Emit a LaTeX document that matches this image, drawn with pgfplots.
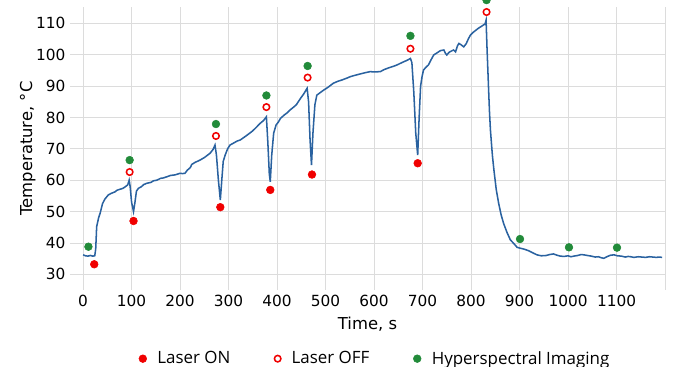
\documentclass[border=0pt]{standalone}
\usepackage{pgfplots}
\pgfplotsset{compat=1.18}
\usepackage{fontspec}
\setmainfont{DejaVu Sans}
\newfontfamily\legfont{Open Sans}
\definecolor{lineblue}{HTML}{2A62A0}
\definecolor{laserred}{HTML}{F00000}
\definecolor{hsgreen}{HTML}{228B3A}
\definecolor{gridgray}{HTML}{DCDCDC}
\begin{document}
\begin{tikzpicture}
\begin{axis}[
  scale only axis,
  width=446.25pt, height=212.25pt,
  xmin=-27, xmax=1200, ymin=25, ymax=115.2,
  xtick={0,100,...,1100},
  extra x ticks={1200}, extra x tick labels={},
  extra x tick style={grid=major},
  ytick={30,40,...,110},
  grid=major,
  major grid style={gridgray, line width=0.6pt},
  axis line style={draw=none},
  major tick length=0pt,
  tick label style={font=\fontsize{11.5}{13}\selectfont},
  /pgf/number format/assume math mode=true,
  /pgf/number format/1000 sep={},
  xlabel={Time, s},
  ylabel={Temperature, °C},
  ylabel shift=-6.5pt,
  xlabel shift=1pt,
  label style={font=\fontsize{12.3}{14}\selectfont},
  clip=false,
  legend columns=3,
  legend style={at={(0.5,0)}, anchor=center, yshift=-51.5pt, xshift=6pt, draw=none,
    font=\legfont\fontsize{12.7}{14}\selectfont,
    /tikz/every odd column/.append style={column sep=6pt},
    /tikz/every even column/.append style={column sep=31pt}},
]
\addplot[lineblue, line width=1.15pt, forget plot] coordinates {
(0,36.2)(5,35.9)(10,35.8)(15,36.0)(20,35.8)(24,35.9)(26,38)(28,45.2)(32,48)(35,49.4)
(40,52.5)(45,54)(52,55.3)(58,55.8)(66,56.3)(70,56.8)(76,57.1)(82,57.4)(87,57.9)(92,58.5)
(95,60.0)(97,58)(100,53)(104,50)(107,53)(110,56.5)(114,57.4)(120,57.9)(125,58.6)(131,59.0)
(140,59.3)(145,59.8)(152,60.0)(160,60.6)(165,60.7)(173,61.1)(180,61.5)(190,61.7)(200,62.2)
(205,62.1)(210,62.2)(215,63.2)(221,64.0)(224,65.0)(230,65.6)(241,66.4)(250,67.2)(262,68.6)
(268,69.8)(272,71.2)(275,68)(279,60)(283,53.7)(286,60)(289,66)(293,68)(298,70)(303,71.2)
(310,71.8)(318,72.5)(324,72.8)(335,74)(342,74.8)(348,75.5)(355,76.5)(360,77.3)(365,78.1)
(372,79)(378,80.2)(381,72)(384,62)(386,59.5)(389,68)(393,75)(398,77.6)(403,78.6)(407,79.7)
(415,80.8)(421,81.5)(427,82.4)(435,83.4)(440,84.1)(448,86)(455,87.5)(462,89.3)(465,85)
(468,73)(471,64.8)(474,75)(478,84)(482,87.1)(488,87.8)(496,88.7)(505,89.6)(516,90.9)
(525,91.5)(535,92)(545,92.6)(551,93)(560,93.4)(570,93.8)(580,94.2)(592,94.6)(600,94.5)
(613,94.6)(620,95.2)(630,95.8)(640,96.3)(647,96.7)(655,97.3)(662,97.8)(668,98.2)(675,98.8)
(678,97.5)(682,88)(686,75)(690,68.0)(693,80)(696,90)(699,93)(702,95.1)(707,96.0)(712,96.7)
(718,98.5)(723,99.9)(730,100.6)(737,101.3)(744,101.5)(747,100.5)(750,99.9)(755,100.8)
(760,101.2)(764,101.5)(768,100.9)(772,102.8)(775,103.6)(780,103.1)(785,102.5)(790,103.5)
(795,105.2)(799,106.3)(805,107.2)(810,107.8)(815,108.4)(820,108.9)(826,109.5)(829,109.8)
(831,111)(833,102)(836,89.8)(838,82)(840,76)(844,68)(847,63.5)(852,57)(857,52.6)(862,49)
(867,46.3)(874,43.4)(881,41)(890,39.5)(895,38.6)(902,38.3)(910,38)(919,37.5)(928,36.8)
(936,36.2)(945,35.9)(955,36)(962,36.3)(970,36.5)(977,36.1)(984,35.8)(992,35.7)(1000,35.9)
(1006,35.6)(1012,35.8)(1020,36.0)(1027,36.3)(1033,36.2)(1040,36.0)(1048,35.8)(1056,35.5)
(1063,35.6)(1068,35.3)(1074,35.1)(1080,35.6)(1088,36.1)(1095,36.2)(1102,35.9)(1110,35.8)
(1118,35.5)(1124,35.7)(1129,35.6)(1136,35.4)(1145,35.6)(1152,35.5)(1160,35.4)(1168,35.6)
(1175,35.5)(1182,35.4)(1188,35.5)(1194,35.4)
};
\addplot[only marks, mark=*, mark size=2.9pt, color=laserred, mark options={draw=laserred, fill=laserred}] coordinates {
(23,33.2)(104,47)(283,51.4)(386,56.9)(472,61.8)(690,65.4)
};
\addlegendentry{Laser ON}
\addplot[only marks, mark=*, mark size=2.45pt, mark options={draw=laserred, fill=white, line width=1.15pt}] coordinates {
(96,62.6)(274,74.1)(378,83.3)(463,92.7)(675,101.9)(832,113.6)
};
\addlegendentry{Laser OFF}
\addplot[only marks, mark=*, mark size=2.9pt, color=hsgreen, mark options={draw=hsgreen, fill=hsgreen}] coordinates {
(11,38.8)(96,66.4)(274,77.9)(378,87)(463,96.4)(675,106)(832,117.4)(901,41.25)(1002,38.6)(1101,38.5)
};
\addlegendentry{Hyperspectral Imaging}
\end{axis}
\pgfresetboundingbox
\path[use as bounding box] ([xshift=-52.5pt,yshift=-57.75pt]current axis.south west) rectangle ([xshift=12pt,yshift=5.25pt]current axis.north east);
\end{tikzpicture}
\end{document}
